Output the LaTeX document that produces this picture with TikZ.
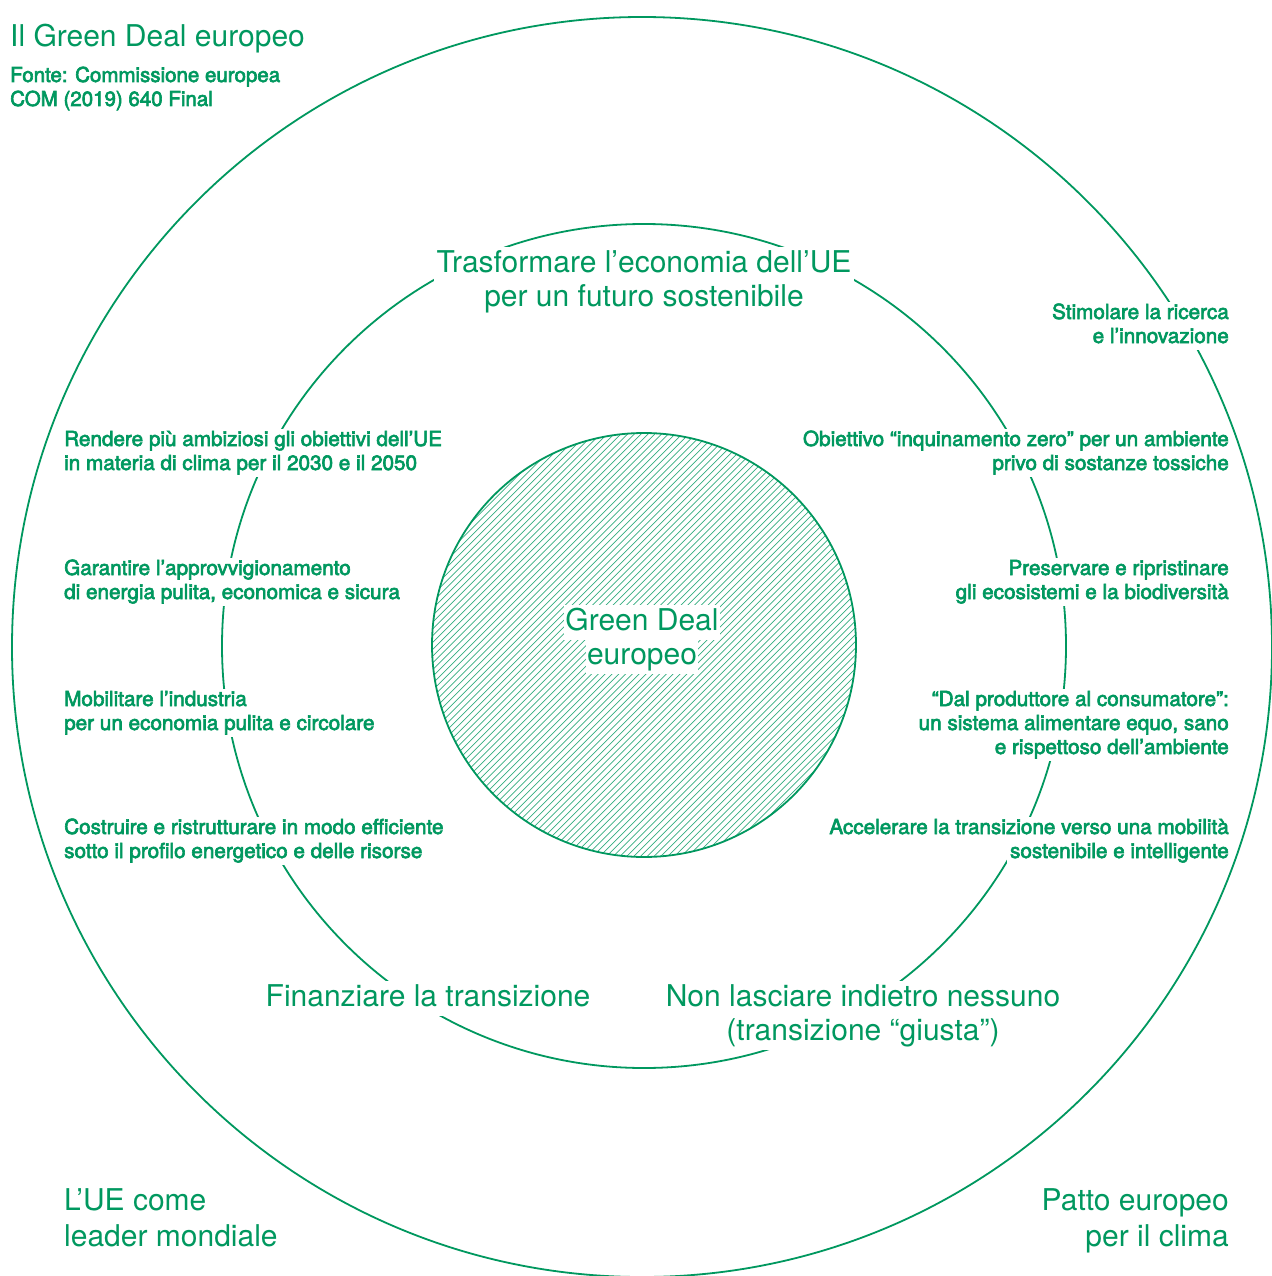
\documentclass[tikz,border=0pt]{standalone}
\usepackage{fontspec}
\setmainfont{TeX Gyre Heros}
\newfontfamily\lblfont{TeX Gyre Heros}[FakeBold=3]
\definecolor{gd}{RGB}{0,152,95}
\begin{document}
\begin{tikzpicture}[x=1pt,y=-1pt,
  ring/.style={draw=gd, line width=1.8pt},
  hatchline/.style={draw=gd!80, line width=0.7pt},
  lbl/.style={font=\lblfont\fontsize{20.7}{24}\selectfont, text=gd, fill=white,
    inner xsep=3pt, inner ysep=2pt, text height=15pt, text depth=5pt},
  big/.style={font=\fontsize{30}{35}\selectfont, text=gd, fill=white,
    inner xsep=3pt, inner ysep=2pt, text height=23pt, text depth=8pt},
  src/.style={font=\lblfont\fontsize{20.5}{24}\selectfont, text=gd, inner sep=0pt}]
\useasboundingbox (0,0) rectangle (1271,1276);
\fill[white] (0,0) rectangle (1271,1276);
% centres
\coordinate (co) at (642,647);
\coordinate (cm) at (644,646);
\coordinate (ci) at (644,645);
% hatch
\begin{scope}
  \clip (ci) circle [radius=212pt];
  \foreach \c in {980,986.8,...,1600} {
    \draw[hatchline] (\c-860,860) -- (\c-425,425);
  }
\end{scope}
\draw[ring] (co) circle [radius=630pt];
\draw[ring] (cm) circle [radius=422pt];
\draw[ring] (ci) circle [radius=212pt];
% title
\node[big, fill=none, anchor=base west, inner xsep=0pt] (t1) at (10,47) {Il Green Deal europeo};
\node[src, anchor=base west] (src1) at (10,82) {Fonte: Commissione europea};
\node[src, anchor=base west] (src2) at (10,106) {COM (2019) 640 Final};
% top
\node[big, anchor=base] (tr1) at (644,272) {Trasformare l’economia dell’UE};
\node[big, anchor=base] (tr2) at (644,306) {per un futuro sostenibile};
% right labels
\node[lbl, anchor=base east] (st1) at (1232,319) {Stimolare la ricerca};
\node[lbl, anchor=base east] (st2) at (1232,343) {e l’innovazione};
\node[lbl, anchor=base east] (ob1) at (1232,446) {Obiettivo “inquinamento zero” per un ambiente};
\node[lbl, anchor=base east] (ob2) at (1232,470) {privo di sostanze tossiche};
\node[lbl, anchor=base east] (pr1) at (1232,575) {Preservare e ripristinare};
\node[lbl, anchor=base east] (pr2) at (1232,599) {gli ecosistemi e la biodiversità};
\node[lbl, anchor=base east] (da1) at (1232,706) {“Dal produttore al consumatore”:};
\node[lbl, anchor=base east] (da2) at (1232,730) {un sistema alimentare equo, sano};
\node[lbl, anchor=base east] (da3) at (1232,754) {e rispettoso dell’ambiente};
\node[lbl, anchor=base east] (ac1) at (1232,834) {Accelerare la transizione verso una mobilità};
\node[lbl, anchor=base east] (ac2) at (1232,858) {sostenibile e intelligente};
% left labels
\node[lbl, anchor=base west] (re1) at (61,446) {Rendere più ambiziosi gli obiettivi dell’UE};
\node[lbl, anchor=base west] (re2) at (61,470) {in materia di clima per il 2030 e il 2050};
\node[lbl, anchor=base west] (ga1) at (61,575) {Garantire l’approvvigionamento};
\node[lbl, anchor=base west] (ga2) at (61,599) {di energia pulita, economica e sicura};
\node[lbl, anchor=base west] (mo1) at (61,706) {Mobilitare l’industria};
\node[lbl, anchor=base west] (mo2) at (61,730) {per un economia pulita e circolare};
\node[lbl, anchor=base west] (cs1) at (61,834) {Costruire e ristrutturare in modo efficiente};
\node[lbl, anchor=base west] (cs2) at (61,858) {sotto il profilo energetico e delle risorse};
% bottom
\node[big, anchor=base] (fi) at (428,1006) {Finanziare la transizione};
\node[big, anchor=base] (nl1) at (863,1006) {Non lasciare indietro nessuno};
\node[big, anchor=base] (nl2) at (863,1040) {(transizione “giusta”)};
% centre
\node[big, anchor=base, inner xsep=1pt] (gd1) at (642,630) {Green Deal};
\node[big, anchor=base, inner xsep=1pt] (gd2) at (642,664) {europeo};
% corners
\node[big, fill=none, anchor=base west, inner xsep=0pt] (le1) at (64,1210) {L’UE come};
\node[big, fill=none, anchor=base west, inner xsep=0pt] (le2) at (64,1246) {leader mondiale};
\node[big, fill=none, anchor=base east, inner xsep=0pt] (pa1) at (1229,1210) {Patto europeo};
\node[big, fill=none, anchor=base east, inner xsep=0pt] (pa2) at (1229,1246) {per il clima};
\end{tikzpicture}
\end{document}
